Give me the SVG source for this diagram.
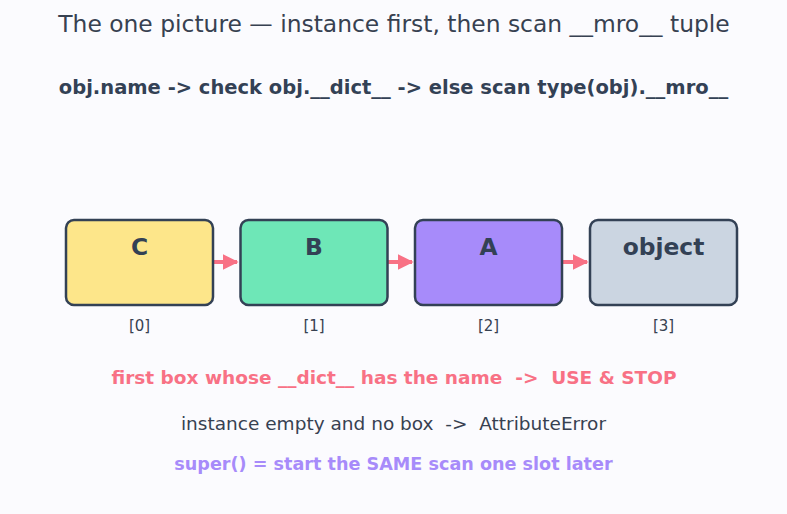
<svg xmlns="http://www.w3.org/2000/svg" width="787" height="514" viewBox="0 0 787 514">
<style>
text{font-family:"DejaVu Sans","Liberation Sans",sans-serif;text-anchor:middle;fill:#374151;white-space:pre}
.box{stroke:#334155;stroke-width:2.5}
.name{font-size:23.4px;font-weight:bold;fill:#334155}
.idx{font-size:15px}
.conn{stroke:#f87185;stroke-width:4;fill:none}
</style>
<defs>
<marker id="ah" viewBox="0 0 10 10" refX="9" refY="5" markerWidth="4" markerHeight="4" markerUnits="strokeWidth" orient="auto">
<path d="M0,0 L10,5 L0,10 z" fill="#f87185"/>
</marker>
</defs>
<rect width="787" height="514" fill="#fbfbfe"/>
<text x="394" y="32" style="font-size:23.4px">The one picture — instance first, then scan __mro__ tuple</text>
<text x="393.5" y="94" style="font-size:19.5px;font-weight:bold;fill:#334155">obj.name -&gt; check obj.__dict__ -&gt; else scan type(obj).__mro__</text>
<g id="connectors">
<line class="conn" x1="214" y1="262" x2="237" y2="262" marker-end="url(#ah)"/>
<line class="conn" x1="388" y1="262" x2="412" y2="262" marker-end="url(#ah)"/>
<line class="conn" x1="563" y1="262" x2="587" y2="262" marker-end="url(#ah)"/>
</g>
<g id="node-C">
<rect class="box" x="66" y="220" width="147" height="85" rx="8" fill="#fde68a"/>
<text class="name" x="139.5" y="255">C</text>
<text class="idx" x="139.5" y="331">[0]</text>
</g>
<g id="node-B">
<rect class="box" x="240.5" y="220" width="147" height="85" rx="8" fill="#6ee7b7"/>
<text class="name" x="314" y="255">B</text>
<text class="idx" x="314" y="331">[1]</text>
</g>
<g id="node-A">
<rect class="box" x="415" y="220" width="147" height="85" rx="8" fill="#a78bfa"/>
<text class="name" x="488.5" y="255">A</text>
<text class="idx" x="488.5" y="331">[2]</text>
</g>
<g id="node-object">
<rect class="box" x="590" y="220" width="147" height="85" rx="8" fill="#cbd5e1"/>
<text class="name" x="663.5" y="255">object</text>
<text class="idx" x="663.5" y="331">[3]</text>
</g>
<text x="394" y="383.5" style="font-size:18.5px;font-weight:bold;fill:#f87185">first box whose __dict__ has the name  -&gt;  USE &amp; STOP</text>
<text x="393.5" y="429.5" style="font-size:18.5px">instance empty and no box  -&gt;  AttributeError</text>
<text x="393.5" y="470" style="font-size:17.6px;font-weight:bold;fill:#a78bfa">super() = start the SAME scan one slot later</text>
</svg>
